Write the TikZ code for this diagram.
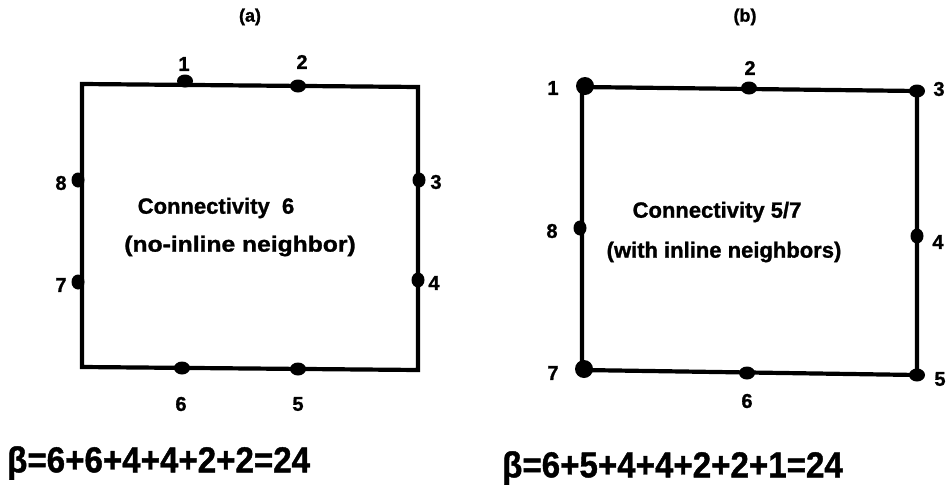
\documentclass[tikz,border=0pt]{standalone}
\usepackage{fontspec}
\setmainfont{Liberation Sans}[BoldFont={* Bold},BoldFeatures={FakeBold=1.2}]
\usetikzlibrary{shapes.geometric}
\begin{document}
\begin{tikzpicture}[x=1pt,y=-1pt,
  edge/.style={line width=4.2pt,line join=miter},
  dot/.style={ellipse,fill=black,inner sep=0pt,minimum width=16pt,minimum height=13pt},
  vdot/.style={ellipse,fill=black,inner sep=0pt,minimum width=13pt,minimum height=15pt},
  bigdot/.style={circle,fill=black,inner sep=0pt,minimum size=18pt},
  lbl/.style={font=\fontsize{20}{23}\selectfont\bfseries,inner sep=0pt},
  paneltitle/.style={font=\fontsize{18}{22}\selectfont\bfseries,inner sep=0pt},
  txt/.style={font=\fontsize{22}{26}\selectfont\bfseries,inner sep=0pt},
  formula/.style={font=\fontsize{36}{42}\selectfont\bfseries,inner sep=0pt,anchor=west,xscale=0.92}]
\fill[white] (0,0) rectangle (951,498);

% ---------- (a) connectivity 6 ----------
\node[paneltitle] (capa) at (250,17) {(a)};
\coordinate (aTL) at (82,84);
\coordinate (aTR) at (418,87);
\coordinate (aBR) at (418,370);
\coordinate (aBL) at (82,367);
\draw[edge] (aTL) -- (aTR) -- (aBR) -- (aBL) -- cycle;

\node[dot]  (a1) at (185,81) {};
\node[dot]  (a2) at (298,86) {};
\node[vdot] (a3) at (419,180) {};
\node[vdot] (a4) at (418,280) {};
\node[dot]  (a5) at (298,369) {};
\node[dot]  (a6) at (182,368) {};
\node[vdot] (a7) at (78,282) {};
\node[vdot] (a8) at (78,180) {};

\node[lbl] (la1) at (184,64) {1};
\node[lbl] (la2) at (302,62) {2};
\node[lbl] (la3) at (436,182) {3};
\node[lbl] (la4) at (434,283) {4};
\node[lbl] (la5) at (298,404) {5};
\node[lbl] (la6) at (181,404) {6};
\node[lbl] (la7) at (61,285) {7};
\node[lbl] (la8) at (61,183) {8};

\node[txt] (ta1) at (216,208) {Connectivity\ \ 6};
\node[txt,xscale=1.12] (ta2) at (240,246) {(no-inline neighbor)};

\node[formula] (fa) at (7,463) {β=6+6+4+4+2+2=24};

% ---------- (b) connectivity 5/7 ----------
\node[paneltitle] (capb) at (745,17) {(b)};
\coordinate (bTL) at (582,87);
\coordinate (bTR) at (917,91);
\coordinate (bBR) at (917,375);
\coordinate (bBL) at (582,370);
\draw[edge] (bTL) -- (bTR) -- (bBR) -- (bBL) -- cycle;

\node[bigdot] (b1) at (585,86) {};
\node[dot]    (b2) at (749,88) {};
\node[dot]    (b3) at (917,91) {};
\node[vdot]   (b4) at (917,236) {};
\node[dot]    (b5) at (917,375) {};
\node[dot]    (b6) at (747,373) {};
\node[bigdot] (b7) at (584,369) {};
\node[vdot]   (b8) at (580,228) {};

\node[lbl] (lb1) at (553,88) {1};
\node[lbl] (lb2) at (750,68) {2};
\node[lbl] (lb3) at (939,89) {3};
\node[lbl] (lb4) at (938,242) {4};
\node[lbl] (lb5) at (940,379) {5};
\node[lbl] (lb6) at (747,401) {6};
\node[lbl] (lb7) at (553,373) {7};
\node[lbl] (lb8) at (552,231) {8};

\node[txt] (tb1) at (717,212) {Connectivity 5/7};
\node[txt] (tb2) at (724,252) {(with inline neighbors)};

\node[formula] (fb) at (502,468) {β=6+5+4+4+2+2+1=24};
\end{tikzpicture}
\end{document}
